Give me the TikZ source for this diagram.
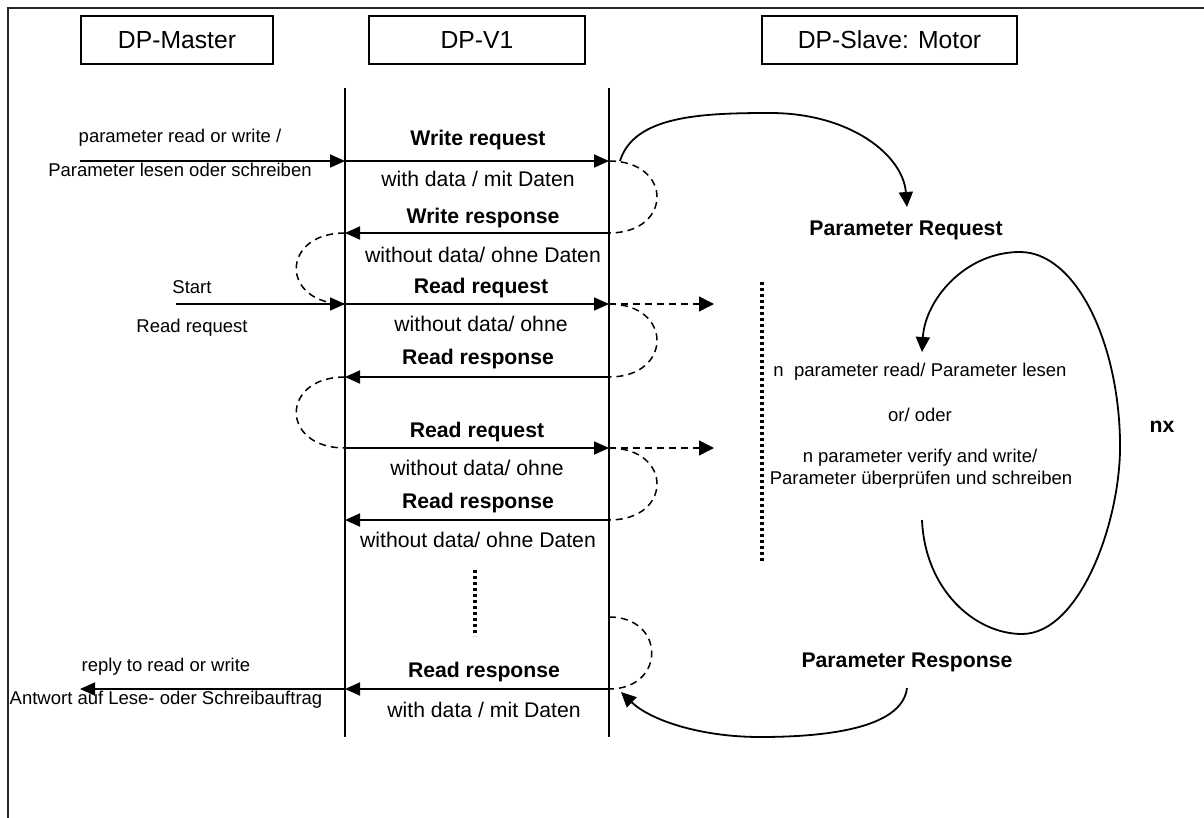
\documentclass[tikz,border=0pt]{standalone}
\usepackage{fontspec}
\setmainfont{Liberation Sans}
\usetikzlibrary{arrows.meta}
\newcommand\fsSmall{\fontsize{18.5pt}{22pt}\selectfont}
\newcommand\fsMain{\fontsize{21.2pt}{25pt}\selectfont}
\newcommand\fsHead{\fontsize{24.7pt}{29pt}\selectfont}
\begin{document}
\begin{tikzpicture}[x=1pt,y=-1pt,
  hdr/.style={draw,line width=1.8pt,inner sep=0pt,font=\fsHead},
  lbl/.style={inner sep=0pt,font=\fsMain},
  lblb/.style={inner sep=0pt,font=\fsMain\bfseries},
  lbls/.style={inner sep=0pt,font=\fsSmall},
  life/.style={line width=1.8pt},
  msg/.style={line width=1.8pt,-{Triangle[length=15pt,width=13pt]}},
  dashloop/.style={line width=1.5pt,dash pattern=on 7pt off 5pt},
  dasharrow/.style={line width=1.5pt,dash pattern=on 7pt off 5pt,-{Triangle[length=15pt,width=15pt]}},
  dotline/.style={line width=3.2pt,dash pattern=on 3pt off 3pt},
  curvearrow/.style={line width=1.8pt,-{Triangle[length=15pt,width=14pt]}},
  curveline/.style={line width=1.8pt}]
\useasboundingbox (0,0) rectangle (1204,818);
% frame (top and left)
\coordinate (fl) at (8,818);
\coordinate (fc) at (8,8);
\coordinate (fr) at (1204,8);
\draw[line width=1.3pt,black!85] (fl) -- (fc) -- (fr);
% headers
\node[hdr,minimum width=192pt,minimum height=48pt] (master) at (177,40) {DP-Master};
\node[hdr,minimum width=216pt,minimum height=48pt] (dpv) at (477,40) {DP-V1};
\node[hdr,minimum width=255pt,minimum height=48pt] (slave) at (889.5,40) {DP-Slave: Motor};
% lifelines
\coordinate (vt) at (345,88); \coordinate (vb) at (345,737);
\coordinate (st) at (609,88); \coordinate (sb) at (609,737);
\draw[life] (vt) -- (vb);
\draw[life] (st) -- (sb);
% message points
\coordinate (m1) at (80,161);
\coordinate (v1) at (345,161); \coordinate (s1) at (609,161);
\coordinate (v2) at (345,233); \coordinate (s2) at (609,233);
\coordinate (m3) at (176,304); \coordinate (v3) at (345,304); \coordinate (s3) at (609,304);
\coordinate (v4) at (345,377); \coordinate (s4) at (609,377);
\coordinate (v5) at (345,448); \coordinate (s5) at (609,448);
\coordinate (v6) at (345,520); \coordinate (s6) at (609,520);
\coordinate (s7) at (609,617);
\coordinate (m8) at (80,689); \coordinate (v8) at (345,689); \coordinate (s8) at (609,689);
\coordinate (d3) at (714,304); \coordinate (d5) at (714,448);
% messages
\draw[msg] (m1) -- (v1);
\draw[msg] (v1) -- (s1);
\draw[msg] (s2) -- (v2);
\draw[msg] (m3) -- (v3);
\draw[msg] (v3) -- (s3);
\draw[msg] (s4) -- (v4);
\draw[msg] (v5) -- (s5);
\draw[msg] (s6) -- (v6);
\draw[msg] (s8) -- (v8);
\draw[msg] (v8) -- (m8);
% dashed loops
\draw[dashloop] (s1) .. controls +(64,0) and +(64,0) .. (s2);
\draw[dashloop] (s3) .. controls +(64,0) and +(64,0) .. (s4);
\draw[dashloop] (s5) .. controls +(64,0) and +(64,0) .. (s6);
\draw[dashloop] (s7) .. controls +(57,0) and +(57,0) .. (s8);
\draw[dashloop] (v2) .. controls +(-65,0) and +(-65,0) .. (v3);
\draw[dashloop] (v4) .. controls +(-65,0) and +(-65,0) .. (v5);
\draw[dasharrow] (s3) -- (d3);
\draw[dasharrow] (s5) -- (d5);
% dotted lines
\coordinate (dt1) at (475,570); \coordinate (db1) at (475,636);
\coordinate (dt2) at (762,282); \coordinate (db2) at (762,563);
\draw[dotline] (dt1) -- (db1);
\draw[dotline] (dt2) -- (db2);
% labels left
\node[lbls] (plw) at (180,138) {parameter read or write /};
\node[lbls] (pls) at (180,170) {Parameter lesen oder schreiben};
\node[lbls] (start) at (192,287) {Start};
\node[lbls] (rrq) at (192,328) {Read request};
\node[lbls] (reply) at (166,667) {reply to read or write};
\node[lbls] (antw) at (166,700) {Antwort auf Lese- oder Schreibauftrag};
% labels middle
\node[lblb] (wreq) at (478,140) {Write request};
\node[lbl] (wd1) at (478,179) {with data / mit Daten};
\node[lblb] (wres) at (483,218) {Write response};
\node[lbl] (wod1) at (483,255) {without data/ ohne Daten};
\node[lblb] (rreq1) at (481,288) {Read request};
\node[lbl] (wo1) at (481,324) {without data/ ohne};
\node[lblb] (rres1) at (478,359) {Read response};
\node[lblb] (rreq2) at (477,432) {Read request};
\node[lbl] (wo2) at (477,468) {without data/ ohne};
\node[lblb] (rres2) at (478,503) {Read response};
\node[lbl] (wod2) at (478,540) {without data/ ohne Daten};
\node[lblb] (rres3) at (484,672) {Read response};
\node[lbl] (wd2) at (484,710) {with data / mit Daten};
% labels right
\node[lblb] (preq) at (906,230) {Parameter Request};
\node[lbls] (pr1) at (920,372) {n\ \ parameter read/ Parameter lesen};
\node[lbls] (por) at (920,415) {or/ oder};
\node[lbls] (pv1) at (920,458) {n parameter verify and write/};
\node[lbls] (pv2) at (921,480) {Parameter überprüfen und schreiben};
\node[lblb] (nx) at (1162,427) {nx};
\node[lblb] (pres) at (907,662) {Parameter Response};
% solid curves
\coordinate (c1s) at (620,161); \coordinate (c1e) at (907,207);
\draw[curvearrow] (c1s) .. controls (634,116) and (700,113) .. (770,113)
  .. controls (850,113) and (903,155) .. (c1e);
\coordinate (c2s) at (922,520); \coordinate (c2e) at (922,352);
\draw[curvearrow] (c2s) .. controls (925,590) and (975,634) .. (1022,634)
  .. controls (1080,634) and (1122,520) .. (1120,440)
  .. controls (1118,340) and (1075,252) .. (1020,252)
  .. controls (965,252) and (925,300) .. (c2e);
\coordinate (c3s) at (907,688); \coordinate (c3e) at (621,692);
\draw[curvearrow] (c3s) .. controls (902,730) and (820,737) .. (760,737)
  .. controls (700,737) and (650,720) .. (c3e);
\end{tikzpicture}
\end{document}
